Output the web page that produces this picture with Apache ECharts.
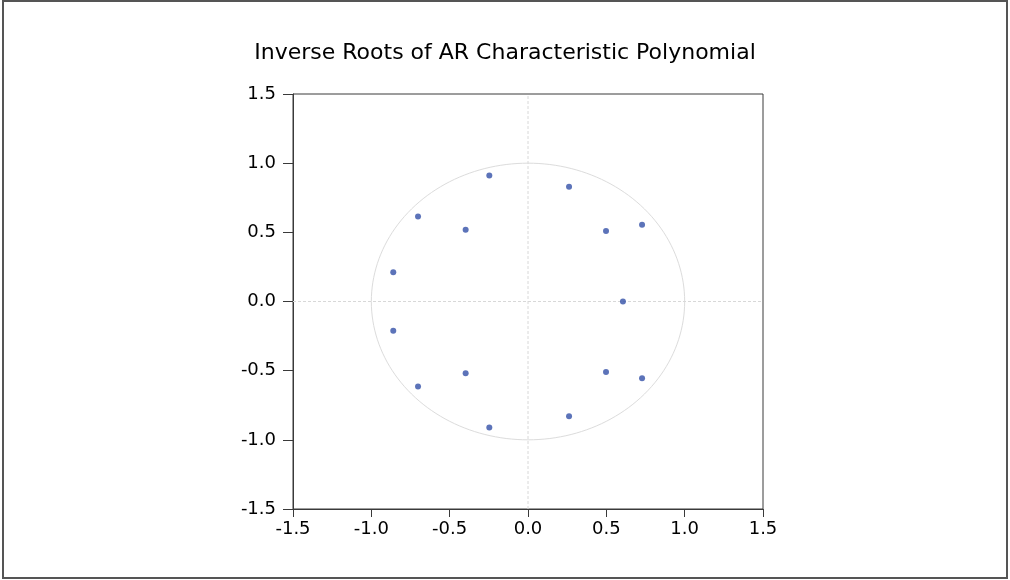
<!DOCTYPE html>
<html>
<head>
<meta charset="utf-8">
<script src="https://cdn.jsdelivr.net/npm/echarts@6/dist/echarts.min.js"></script>
<style>
html,body{margin:0;padding:0;background:#fff;}
#chart{width:1010px;height:580px;}
</style>
</head>
<body>
<div id="chart"></div>
<script>
const titleText = "Inverse Roots of AR Characteristic Polynomial";
const tickValues = [-1.5, -1.0, -0.5, 0.0, 0.5, 1.0, 1.5];
const rootsRe = [-0.247, -0.247, 0.262, 0.262, -0.702, -0.702, -0.398, -0.398, 0.498, 0.498, 0.728, 0.728, -0.860, -0.860, 0.606];
const rootsIm = [0.911, -0.911, 0.830, -0.830, 0.615, -0.615, 0.518, -0.518, 0.510, -0.510, 0.555, -0.555, 0.212, -0.212, 0.0];
const unitRadius = 1.0;

const points = rootsRe.map((r, i) => [r, rootsIm[i]]);
const fmt = v => v.toFixed(1);
const FONT = 'DejaVu Sans';
const lo = tickValues[0], hi = tickValues[tickValues.length - 1];

const chart = echarts.init(document.getElementById('chart'));
function axis(tickLen, margin) {
  return {
    type: 'value', min: lo, max: hi, interval: 0.5,
    axisLine: {show: true, onZero: false, lineStyle: {color: '#3a3a3a', width: 1}},
    axisTick: {show: true, inside: false, length: tickLen, lineStyle: {color: '#3a3a3a'}},
    axisLabel: {color: '#000', fontFamily: FONT, fontSize: 18, margin: margin, formatter: fmt},
    splitLine: {show: false}
  };
}
chart.setOption({
  backgroundColor: '#fff',
  animation: false,
  title: {
    text: titleText, left: 'center', top: 37,
    textStyle: {fontFamily: FONT, fontSize: 22, fontWeight: 'normal', color: '#000'}
  },
  graphic: [{
    type: 'rect', shape: {x: 3, y: 1, width: 1004, height: 577},
    style: {fill: 'none', stroke: '#555', lineWidth: 2}, silent: true
  }],
  grid: {left: 293, right: 247, top: 94, bottom: 71, show: true, borderColor: '#3a3a3a', borderWidth: 1, backgroundColor: 'transparent'},
  xAxis: axis(8, 11),
  yAxis: axis(10, 17),
  series: [
    {
      type: 'custom',
      silent: true,
      data: [[0, 0, unitRadius]],
      renderItem: function (params, api) {
        const pts = [];
        const n = 180;
        const r = api.value(2);
        for (let k = 0; k <= n; k++) {
          const t = 2 * Math.PI * k / n;
          pts.push(api.coord([r * Math.cos(t), r * Math.sin(t)]));
        }
        const xa = api.coord([lo, 0]), xb = api.coord([hi, 0]);
        const ya = api.coord([0, lo]), yb = api.coord([0, hi]);
        const dash = {stroke: '#d8d8d8', lineWidth: 1, lineDash: [3, 2]};
        return {
          type: 'group',
          children: [
            {type: 'line', shape: {x1: xa[0], y1: xa[1], x2: xb[0], y2: xb[1]}, style: dash},
            {type: 'line', shape: {x1: ya[0], y1: ya[1], x2: yb[0], y2: yb[1]}, style: dash},
            {type: 'polyline', shape: {points: pts}, style: {fill: 'none', stroke: '#dcdcdc', lineWidth: 1}}
          ]
        };
      },
      z: 1
    },
    {
      type: 'scatter',
      data: points,
      symbol: 'circle',
      symbolSize: 6,
      itemStyle: {color: '#3350a8'},
      z: 3
    }
  ]
});
</script>
</body>
</html>
